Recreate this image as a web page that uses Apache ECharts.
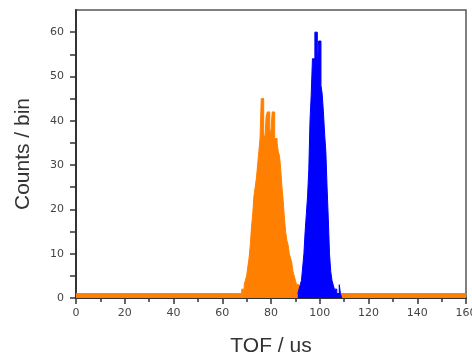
<!DOCTYPE html>
<html>
<head>
<meta charset="utf-8">
<script src="https://cdn.jsdelivr.net/npm/echarts@6/dist/echarts.min.js"></script>
<style>html,body{margin:0;padding:0;background:#fff;}#c{width:472px;height:355px;}</style>
</head>
<body>
<div id="c"></div>
<script>
// Data
const binWidth = 0.5;
const background = 1;
const orangeStart = 67;
const orangeCounts = [1,1,2,2,3,4,5,7,9,12,16,19,23,25,27,30,33,36,45,45,37,36,41,42,42,37,38,42,42,36,36,35,33,32,29,25,22,18,15,13,12,10,9,8,6,5,4,3,3,2,1];
const blueStart = 91;
const blueCounts = [1,2,3,4,7,10,15,19,23,29,40,46,54,54,60,60,51,58,58,48,46,42,37,33,25,18,10,6,4,3,2,2,1,1,3,1];
const xTicks = [0,20,40,60,80,100,120,140,160];
const yTicks = [0,10,20,30,40,50,60];

function orangeData(){
  const d = [[0, background]];
  orangeCounts.forEach((v,i)=>d.push([orangeStart + i*binWidth, Math.max(v, background)]));
  d.push([orangeStart + orangeCounts.length*binWidth, background]);
  d.push([160, background]);
  return d;
}
function blueData(){
  const d = [];
  blueCounts.forEach((v,i)=>d.push([blueStart + i*binWidth, v]));
  d.push([blueStart + blueCounts.length*binWidth, 0]);
  return d;
}

const chart = echarts.init(document.getElementById('c'));
const labelFont = {fontFamily:'DejaVu Sans', fontSize:11, color:'#444'};
chart.setOption({
  animation:false,
  grid:{left:76, top:10, right:6, bottom:57, show:true, borderColor:'#555', borderWidth:1.5,
        containLabel:false, outerBoundsMode:'none'},
  xAxis:{
    type:'value', min:0, max:160, interval:20,
    name:'TOF / us', nameLocation:'middle', nameGap:38,
    nameTextStyle:{fontFamily:'Liberation Sans', fontSize:21, color:'#333'},
    axisLine:{show:true, lineStyle:{color:'#333', width:2}},
    axisTick:{show:true, length:6, lineStyle:{color:'#333', width:1.5}},
    minorTick:{show:true, splitNumber:2, length:4, lineStyle:{color:'#333', width:1.5}},
    axisLabel:Object.assign({margin:10, hideOverlap:false, formatter:v=>xTicks.includes(v)?String(v):''}, labelFont),
    splitLine:{show:false}
  },
  yAxis:{
    type:'value', min:0, max:65, interval:5,
    name:'Counts / bin', nameLocation:'middle', nameGap:42, nameRotate:90,
    nameTextStyle:{fontFamily:'Liberation Sans', fontSize:21, color:'#333'},
    axisLine:{show:true, lineStyle:{color:'#333', width:2}},
    axisTick:{show:true, length:6, lineStyle:{color:'#333', width:1.5}},
    axisLabel:Object.assign({margin:12, showMaxLabel:false, formatter:v=>yTicks.includes(v)?String(v):''}, labelFont),
    splitLine:{show:false}
  },
  series:[
    {type:'line', step:'end', data:orangeData(), symbol:'none',
     lineStyle:{color:'#FF8000', width:1}, itemStyle:{color:'#FF8000'},
     areaStyle:{color:'#FF8000', opacity:1}, z:2},
    {type:'line', step:'end', data:blueData(), symbol:'none',
     lineStyle:{color:'#0000FF', width:1}, itemStyle:{color:'#0000FF'},
     areaStyle:{color:'#0000FF', opacity:1}, z:3}
  ]
});
</script>
</body>
</html>
